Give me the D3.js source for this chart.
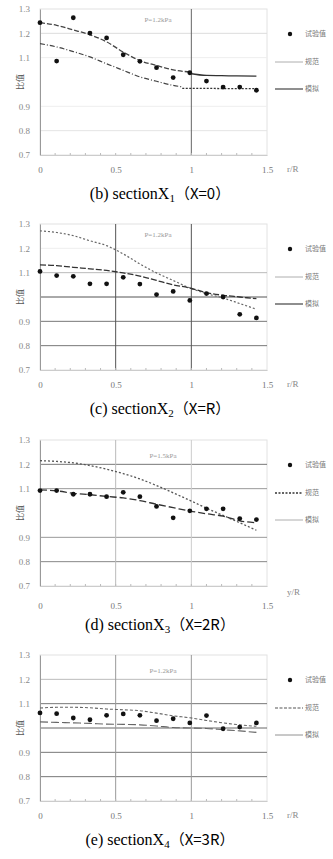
<!DOCTYPE html>
<html><head><meta charset="utf-8">
<script src="https://cdn.jsdelivr.net/npm/d3@7"></script>
<style>body{margin:0;background:#fff}</style>
</head><body>
<svg id="c" width="333" height="859"></svg>
<script>
// ---- data ----
const yTicks = [0.7, 0.8, 0.9, 1.0, 1.1, 1.2, 1.3];
const yTickLabels = ["0.7", "0.8", "0.9", "", "1.1", "1.2", "1.3"];
const xTicks = [0, 0.5, 1, 1.5];
const xTickLabels = ["0", "0.5", "1", "1.5"];
const legendLabels = ["试验值", "规范", "模拟"];
const captions = ["(b) sectionX|1|（X=0）", "(c) sectionX|2|（X=R）", "(d) sectionX|3|（X=2R）", "(e) sectionX|4|（X=3R）"];
const pressureLabels = ["P=1.2kPa", "P=1.2kPa", "P=1.5kPa", "P=1.2kPa"];

const xPts = [0, 0.11, 0.22, 0.33, 0.44, 0.55, 0.66, 0.77, 0.88, 0.99, 1.10, 1.21, 1.32, 1.43];

// panel b
const bPts = [1.244, 1.086, 1.264, 1.201, 1.181, 1.112, 1.085, 1.059, 1.018, 1.038, 1.004, 0.979, 0.979, 0.966];
const bUpperX = [0, 0.11, 0.22, 0.33, 0.44, 0.55, 0.66, 0.77, 0.88, 0.99];
const bUpperY = [1.244, 1.233, 1.214, 1.194, 1.165, 1.123, 1.088, 1.068, 1.050, 1.041];
const bUpperTailX = [0.99, 1.1, 1.2, 1.3, 1.43];
const bUpperTailY = [1.035, 1.027, 1.026, 1.025, 1.024];
const bLowerX = [0, 0.11, 0.22, 0.33, 0.44, 0.55, 0.66, 0.77, 0.88, 0.94];
const bLowerY = [1.158, 1.144, 1.125, 1.103, 1.075, 1.048, 1.021, 1.003, 0.986, 0.980];
const bLowerTailX = [0.94, 1.1, 1.2, 1.3, 1.43];
const bLowerTailY = [0.974, 0.974, 0.973, 0.973, 0.973];

// panel c
const cPts = [1.105, 1.088, 1.085, 1.054, 1.054, 1.081, 1.053, 1.010, 1.023, 0.986, 1.014, 1.000, 0.929, 0.914];
const cUpperY = [1.272, 1.265, 1.252, 1.231, 1.211, 1.177, 1.136, 1.099, 1.068, 1.037, 1.014, 0.996, 0.973, 0.950];
const cLowerY = [1.132, 1.129, 1.122, 1.116, 1.109, 1.099, 1.086, 1.068, 1.050, 1.037, 1.018, 1.007, 1.000, 0.993];

// panel d
const dPts = [1.092, 1.092, 1.077, 1.077, 1.067, 1.085, 1.067, 1.027, 0.980, 1.009, 1.017, 1.017, 0.977, 0.973];
const dUpperY = [1.215, 1.212, 1.206, 1.195, 1.180, 1.162, 1.140, 1.113, 1.083, 1.052, 1.020, 0.990, 0.960, 0.929];
const dLowerY = [1.095, 1.091, 1.081, 1.075, 1.068, 1.062, 1.051, 1.036, 1.022, 1.008, 0.997, 0.987, 0.968, 0.960];

// panel e
const ePts = [1.062, 1.059, 1.041, 1.034, 1.052, 1.058, 1.052, 1.030, 1.038, 1.021, 1.051, 0.997, 1.004, 1.021];
const eUpperY = [1.082, 1.085, 1.085, 1.083, 1.078, 1.075, 1.071, 1.061, 1.050, 1.042, 1.031, 1.021, 1.013, 1.007];
const eLowerY = [1.025, 1.023, 1.021, 1.019, 1.016, 1.015, 1.013, 1.008, 1.002, 1.000, 0.998, 0.993, 0.988, 0.982];

// ---- drawing ----
const svg = d3.select("#c");
const panelTops = [0, 215, 431, 646];
const x = d3.scaleLinear().domain([0, 1.5]).range([40, 267]);

const hGrid = [
  [[1.2, "#ddd"], [1.1, "#eee"], [0.9, "#eee"], [0.8, "#e4e4e4"]],
  [[1.2, "#eee"], [1.1, "#bbb"], [1.0, "#555"], [0.9, "#777"], [0.8, "#777"]],
  [[1.2, "#777"], [1.1, "#999"], [0.9, "#999"], [0.8, "#888"]],
  [[1.2, "#bbb"], [1.1, "#777"], [1.0, "#666"], [0.9, "#777"], [0.8, "#777"]]
];
const vGrid = [
  [[1, "#666"]],
  [[0.5, "#555"], [1, "#555"]],
  [[0.5, "#bbb"], [1, "#ccc"]],
  [[0.5, "#999"], [1, "#999"]]
];

const panels = [
  {pts: bPts, curves: [
    {xs: bUpperX, ys: bUpperY, dash: "5,2", col: "#444", w: 1.3},
    {xs: bUpperTailX, ys: bUpperTailY, dash: null, col: "#333", w: 1.3},
    {xs: bLowerX, ys: bLowerY, dash: "5,2,1,2", col: "#444", w: 1.2},
    {xs: bLowerTailX, ys: bLowerTailY, dash: "2,1.5", col: "#333", w: 1.3}
  ], legendStyles: [{dash: null, col: "#999", w: 0.8}, {dash: null, col: "#444", w: 1.2}]},
  {pts: cPts, curves: [
    {xs: xPts, ys: cUpperY, dash: "2,2", col: "#666", w: 1.2},
    {xs: xPts, ys: cLowerY, dash: "6,2", col: "#333", w: 1.3}
  ], legendStyles: [{dash: null, col: "#999", w: 0.8}, {dash: null, col: "#444", w: 1.2}]},
  {pts: dPts, curves: [
    {xs: xPts, ys: dUpperY, dash: "2,2", col: "#555", w: 1.3},
    {xs: xPts, ys: dLowerY, dash: "7,3", col: "#333", w: 1.3}
  ], legendStyles: [{dash: "2,1.5", col: "#333", w: 1.4}, {dash: null, col: "#999", w: 0.8}]},
  {pts: ePts, curves: [
    {xs: xPts, ys: eUpperY, dash: "3,2", col: "#666", w: 1.1},
    {xs: xPts, ys: eLowerY, dash: "8,3", col: "#666", w: 1.1}
  ], legendStyles: [{dash: "3,1.5", col: "#555", w: 1.1}, {dash: null, col: "#777", w: 0.8}]}
];

panels.forEach((p, i) => {
  const top = panelTops[i];
  const y = d3.scaleLinear().domain([0.7, 1.3]).range([top + 155, top + 9]);
  const g = svg.append("g");

  g.append("rect").attr("x", x(0)).attr("y", y(1.3)).attr("width", x(1.5) - x(0)).attr("height", y(0.7) - y(1.3))
    .attr("fill", "none").attr("stroke", "#e2e2e2").attr("stroke-width", 1);

  hGrid[i].forEach(([v, c]) => {
    g.append("line").attr("x1", x(0)).attr("x2", x(1.5)).attr("y1", y(v)).attr("y2", y(v))
      .attr("stroke", c).attr("stroke-width", 1);
  });
  vGrid[i].forEach(([v, c]) => {
    g.append("line").attr("x1", x(v)).attr("x2", x(v)).attr("y1", y(1.3)).attr("y2", y(0.7))
      .attr("stroke", c).attr("stroke-width", 1);
  });

  const yAxis = d3.axisLeft(y).tickValues(yTicks).tickSize(0).tickPadding(10)
    .tickFormat((d, k) => yTickLabels[k]);
  const ya = g.append("g").attr("transform", `translate(${x(0)},0)`).call(yAxis);
  ya.select(".domain").attr("stroke", "#999");
  ya.selectAll("text").attr("fill", "#888").style("font-family", "Liberation Serif").style("font-size", "9px");

  const xAxis = d3.axisBottom(x).tickValues(xTicks).tickSize(0).tickPadding(i === 2 ? 17 : 12)
    .tickFormat((d, k) => xTickLabels[k]);
  const xa = g.append("g").attr("transform", `translate(0,${y(0.7)})`).call(xAxis);
  xa.select(".domain").attr("stroke", "#ccc");
  xa.selectAll("text").attr("fill", "#777").style("font-family", "Liberation Serif").style("font-size", "9px");
  g.selectAll(".mt").data(d3.range(0.1, 1.45, 0.1)).enter().append("line")
    .attr("x1", d => x(d)).attr("x2", d => x(d)).attr("y1", y(0.7)).attr("y2", y(0.7) - 2)
    .attr("stroke", "#bbb");

  g.append("text").attr("transform", `translate(${x(0) - 19},${y(1.0)}) rotate(-90)`)
    .attr("text-anchor", "middle").attr("dominant-baseline", "middle")
    .style("font-family", "Noto Sans CJK SC").style("font-size", "8px").attr("fill", "#555").text("比值");
  g.append("text").attr("x", 287).attr("y", y(0.7) + (i === 2 ? 9 : 17))
    .attr("text-anchor", "start").style("font-family", "Liberation Serif").style("font-size", "9px")
    .attr("fill", "#888").text(i === 2 ? "y/R" : "r/R");

  g.append("text").attr("x", i < 2 ? 158 : 163).attr("y", y(1.3) + (i < 2 ? 13 : 18))
    .attr("text-anchor", "middle").style("font-family", "Liberation Serif").style("font-size", "7px")
    .attr("fill", "#999").text(pressureLabels[i]);

  const line = d3.line().curve(d3.curveMonotoneX);
  p.curves.forEach(c => {
    const path = g.append("path").attr("d", line(c.xs.map((xv, k) => [x(xv), y(c.ys[k])])))
      .attr("fill", "none").attr("stroke", c.col).attr("stroke-width", c.w);
    if (c.dash) path.attr("stroke-dasharray", c.dash);
  });

  g.selectAll(".pt").data(p.pts).enter().append("circle")
    .attr("cx", (d, k) => x(xPts[k])).attr("cy", d => y(d)).attr("r", 2.4)
    .attr("fill", "#111");

  const ly = [top + 34, top + 62, top + 89];
  g.append("circle").attr("cx", 290).attr("cy", ly[0]).attr("r", 2.2).attr("fill", "#111");
  p.legendStyles.forEach((s, k) => {
    const l = g.append("line").attr("x1", 275).attr("x2", 303).attr("y1", ly[k + 1]).attr("y2", ly[k + 1])
      .attr("stroke", s.col).attr("stroke-width", s.w);
    if (s.dash) l.attr("stroke-dasharray", s.dash);
  });
  legendLabels.forEach((t, k) => {
    g.append("text").attr("x", 305).attr("y", ly[k]).attr("dominant-baseline", "middle")
      .style("font-family", "Noto Sans CJK SC").style("font-size", "7px").attr("fill", "#777").text(t);
  });

  const parts = captions[i].split("|");
  const cap = g.append("text").attr("x", 160).attr("y", top + 199).attr("text-anchor", "middle")
    .style("font-family", "Liberation Serif").style("font-size", "16px").attr("fill", "#000");
  cap.append("tspan").text(parts[0]);
  cap.append("tspan").attr("baseline-shift", "-25%").style("font-size", "11px").text(parts[1]);
  cap.append("tspan").style("font-family", "Noto Sans CJK SC").style("font-size", "15px").text(parts[2]);
});
</script>
</body></html>
